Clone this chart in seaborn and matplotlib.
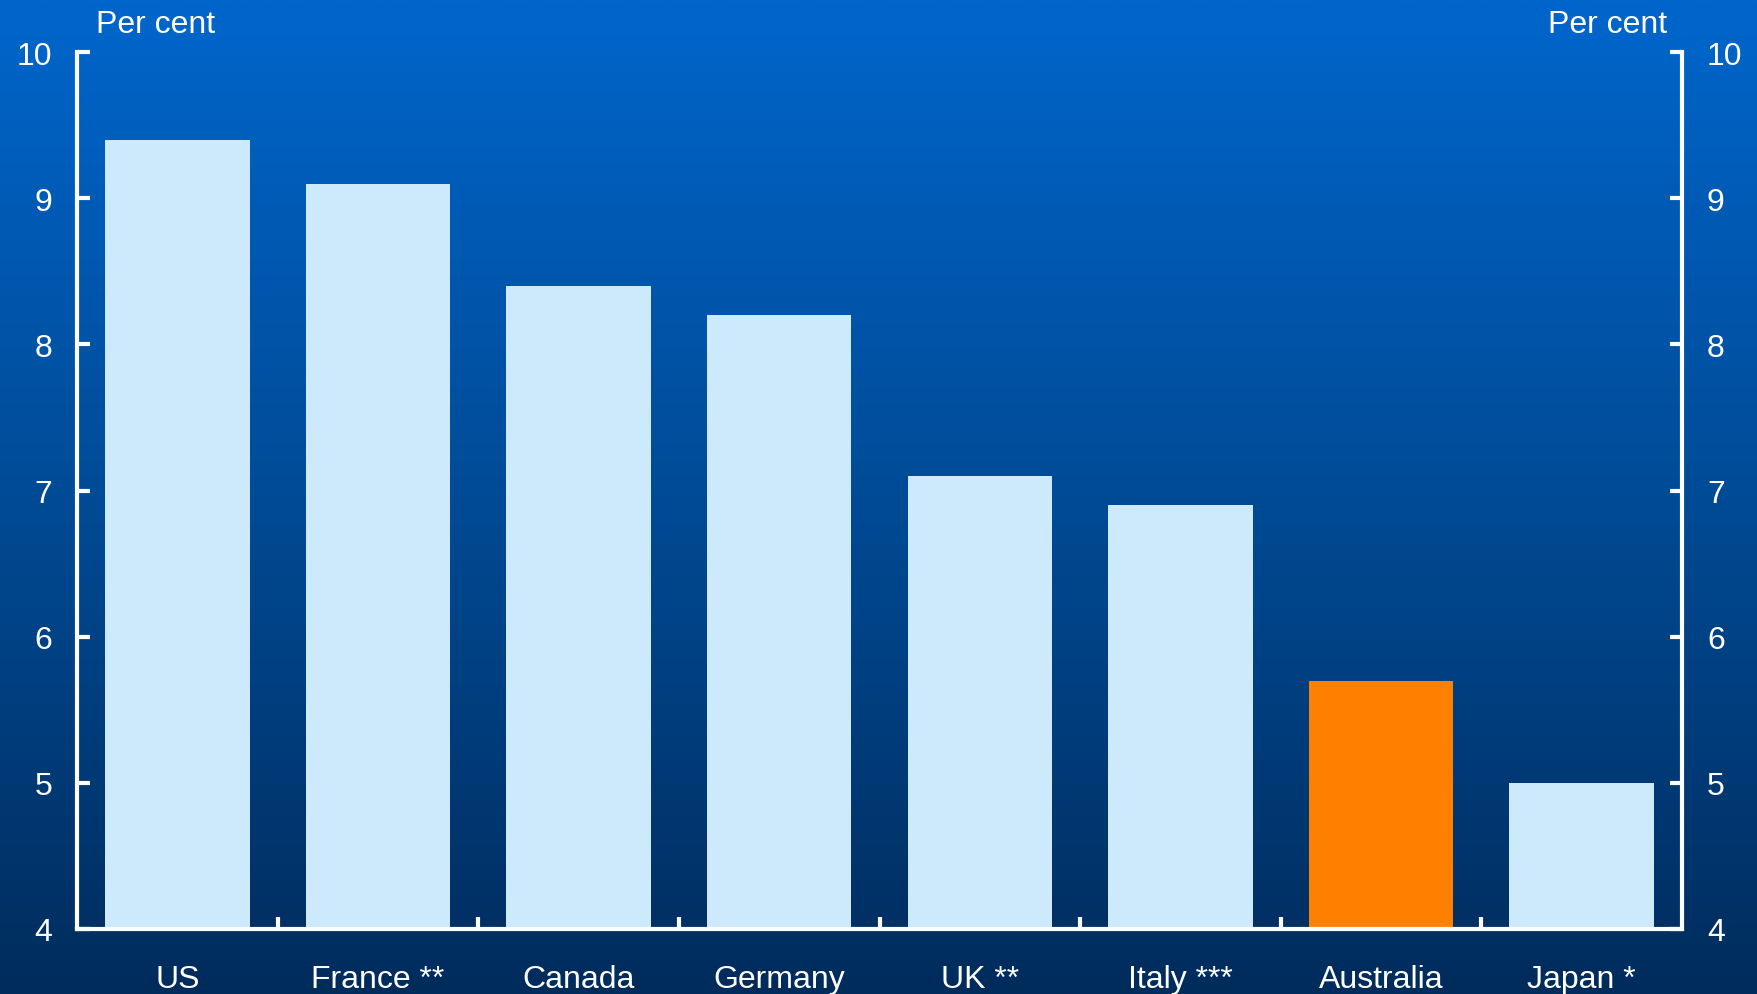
import numpy as np
import pandas as pd
import matplotlib
matplotlib.use("Agg")
import matplotlib.pyplot as plt
from matplotlib.colors import LinearSegmentedColormap
import seaborn as sns

# Data
countries = ["US", "France **", "Canada", "Germany", "UK **", "Italy ***", "Australia", "Japan *"]
values = [9.4, 9.1, 8.4, 8.2, 7.1, 6.9, 5.7, 5.0]
highlight = "Australia"
y_ticks = [4, 5, 6, 7, 8, 9, 10]

sns.set_theme(style="white")
plt.rcParams["font.family"] = ["Liberation Sans", "DejaVu Sans"]

W, H = 1758, 995
fig = plt.figure(figsize=(W / 100, H / 100), dpi=100)

# Vertical gradient background
bg = fig.add_axes([0, 0, 1, 1], zorder=-10)
cmap = LinearSegmentedColormap.from_list("bg", ["#0066cc", "#004b96", "#002c5c"])
grad = np.linspace(0, 1, 512).reshape(-1, 1)
bg.imshow(grad, aspect="auto", cmap=cmap, extent=[0, 1, 0, 1], origin="upper")
bg.axis("off")

left, right, top, bottom = 77, 1682, 53, 930
ax = fig.add_axes([left / W, (H - bottom) / H, (right - left) / W, (bottom - top) / H])
ax.set_facecolor("none")

df = pd.DataFrame({"country": countries, "value": values})
palette = {c: ("#ff7f00" if c == highlight else "#cdeafd") for c in countries}
sns.barplot(data=df, x="country", y="value", hue="country", palette=palette,
            width=0.72, saturation=1, legend=False, ax=ax, zorder=2)
for p in ax.patches:
    p.set_edgecolor("none")

ax.set_ylim(4, 10)
ax.set_xlim(-0.5, len(countries) - 0.5)
ax.set_xlabel("")
ax.set_ylabel("")

white = "white"
fs = 23
for side in ["left", "right", "bottom"]:
    ax.spines[side].set_visible(True)
    ax.spines[side].set_color(white)
    ax.spines[side].set_linewidth(3)
ax.spines["top"].set_visible(False)

ax.set_yticks(y_ticks)
ax.set_yticklabels([str(t) for t in y_ticks])
ax.tick_params(axis="y", which="both", direction="in", length=9, width=3, color=white,
               labelcolor=white, labelsize=fs, left=True, right=True,
               labelleft=True, labelright=True, pad=18)

# Category labels under bar centres, ticks between categories
ax.set_xticks(range(len(countries)))
ax.set_xticklabels(countries)
ax.tick_params(axis="x", which="major", length=0, labelcolor=white, labelsize=fs, pad=25)
ax.set_xticks(np.arange(0.5, len(countries) - 1, 1.0), minor=True)
ax.tick_params(axis="x", which="minor", direction="in", length=9, width=3, color=white,
               bottom=True)

fig.text(96 / W, 1 - 25 / H, "Per cent", color=white, fontsize=fs, ha="left", va="center")
fig.text(1667 / W, 1 - 25 / H, "Per cent", color=white, fontsize=fs, ha="right", va="center")

fig.savefig("out.png", dpi=100)
